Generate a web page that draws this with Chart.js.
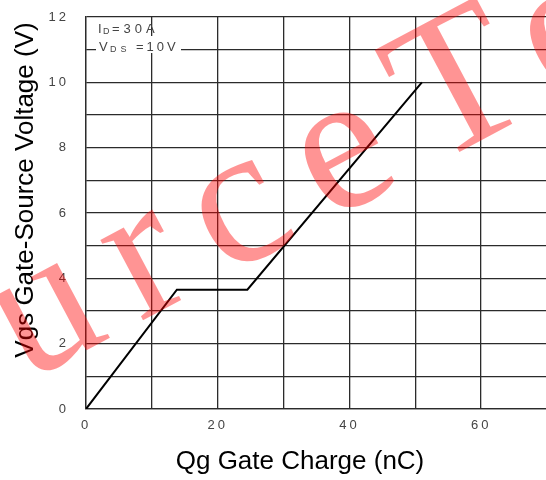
<!DOCTYPE html>
<html>
<head>
<meta charset="utf-8">
<script src="https://cdn.jsdelivr.net/npm/chart.js@4.4.1/dist/chart.umd.min.js"></script>
<style>
  html, body { margin: 0; padding: 0; background: #fff; overflow: hidden; }
  #wrap { position: relative; width: 548px; height: 480px; }
</style>
</head>
<body>
<div id="wrap"><canvas id="gateChart" width="548" height="480"></canvas></div>
<script>
// Gate charge curve
const chargeNC = [0, 13.8, 24.5, 51];
const gateVolts = [0, 3.65, 3.65, 10];

// Axis ticks
const xTickLabels = [0, 20, 40, 60];
const yTickLabels = [0, 2, 4, 6, 8, 10, 12];

const xTitle = 'Qg Gate Charge (nC)';
const yTitle = 'Vgs Gate-Source Voltage (V)';
const watermark = 'SourceTech';

const gridColor = '#2b2b2b';
const tickColor = '#444';

// axis titles, test conditions box and the red watermark
const extrasPlugin = {
    id: 'extras',
    beforeDraw(chart) {
        chart.ctx.letterSpacing = '3px';
    },
    afterDraw(chart) {
        const ctx = chart.ctx;
        ctx.save();
        ctx.letterSpacing = '0px';

        // axis titles
        ctx.fillStyle = '#000';
        ctx.font = '26px "Liberation Sans", Arial, sans-serif';
        ctx.textAlign = 'center';
        ctx.textBaseline = 'middle';
        ctx.fillText(xTitle, 300, 462);
        ctx.save();
        ctx.translate(26, 190);
        ctx.rotate(-Math.PI / 2);
        ctx.fillText(yTitle, 0, 0);
        ctx.restore();

        // test conditions
        ctx.fillStyle = '#fff';
        ctx.fillRect(96, 36, 85, 17);
        ctx.fillStyle = tickColor;
        ctx.textAlign = 'left';
        ctx.textBaseline = 'alphabetic';
        ctx.letterSpacing = '4px';
        const big = '13px "Liberation Sans", Arial, sans-serif';
        const small = '9px "Liberation Sans", Arial, sans-serif';
        ctx.font = big;  ctx.fillText('I', 98, 33);
        ctx.font = small; ctx.fillText('D', 103, 34);
        ctx.font = big;  ctx.fillText('=30A', 112, 33);
        ctx.font = big;  ctx.fillText('V', 99, 51);
        ctx.font = small; ctx.fillText('DS', 110, 52);
        ctx.letterSpacing = '3px';
        ctx.font = big;  ctx.fillText('=10V', 136, 51);

        // watermark
        ctx.letterSpacing = '30px';
        ctx.fillStyle = 'rgba(255, 0, 0, 0.42)';
        ctx.font = '198px "Liberation Serif", "Times New Roman", serif';
        ctx.translate(-212, 509);
        ctx.rotate(-28 * Math.PI / 180);
        ctx.fillText(watermark, 0, 0);
        ctx.restore();
    }
};

new Chart(document.getElementById('gateChart'), {
    type: 'scatter',
    data: {
        datasets: [{
            data: chargeNC.map((x, i) => ({ x: x, y: gateVolts[i] })),
            showLine: true,
            borderColor: '#000',
            borderWidth: 2,
            pointRadius: 0,
            tension: 0
        }]
    },
    options: {
        responsive: false,
        animation: false,
        layout: { padding: { top: 17, right: 1, bottom: 0, left: 0 } },
        plugins: {
            legend: { display: false },
            tooltip: { enabled: false }
        },
        scales: {
            x: {
                type: 'linear',
                min: 0,
                max: 70,
                afterFit(scale) {
                    scale.height = 71;
                    scale.paddingLeft = 0;
                    scale.paddingRight = 0;
                },
                grid: { color: gridColor, lineWidth: 1.3, drawTicks: false },
                border: { color: gridColor, width: 1.3 },
                ticks: {
                    stepSize: 10,
                    padding: 9,
                    color: tickColor,
                    font: { family: '"Liberation Sans", Arial, sans-serif', size: 13 },
                    maxRotation: 0,
                    autoSkip: false,
                    callback: v => xTickLabels.includes(v) ? String(v) : ''
                }
            },
            y: {
                min: 0,
                max: 12,
                afterFit(scale) {
                    scale.width = 86;
                    scale.paddingTop = 0;
                    scale.paddingBottom = 0;
                },
                grid: { color: gridColor, lineWidth: 1.3, drawTicks: false },
                border: { color: gridColor, width: 1.3 },
                ticks: {
                    stepSize: 1,
                    padding: 17,
                    color: tickColor,
                    font: { family: '"Liberation Sans", Arial, sans-serif', size: 13 },
                    autoSkip: false,
                    callback: v => yTickLabels.includes(v) ? String(v) : ''
                }
            }
        }
    },
    plugins: [extrasPlugin]
});
</script>
</body>
</html>
